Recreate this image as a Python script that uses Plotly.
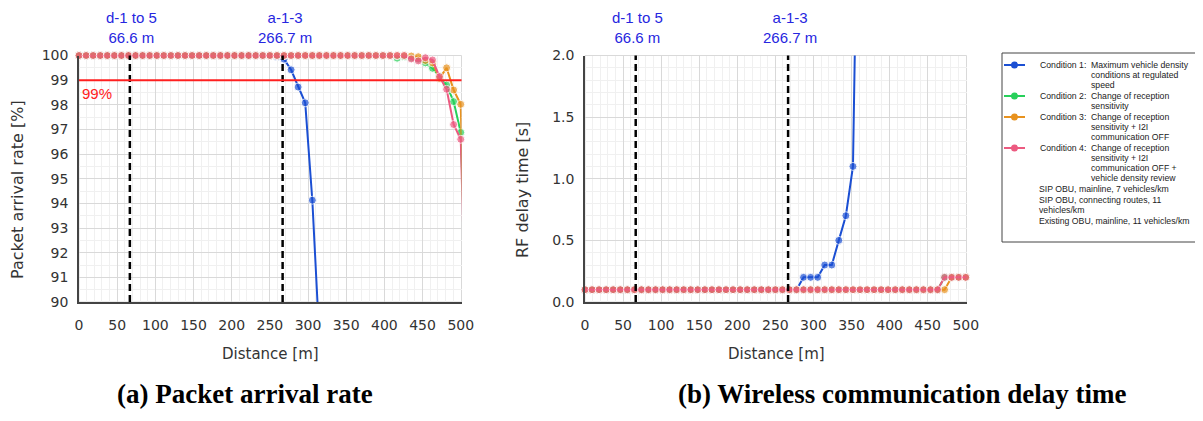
import plotly.graph_objects as go

# -- datos ----------------------------------------------------------------------------------------------------- -- #

# distancia de cada punto de medicion [m]
distance = [0.0, 9.3, 18.5, 27.8, 37.0, 46.3, 55.6, 64.8, 74.1, 83.3,
            92.6, 101.9, 111.1, 120.4, 129.6, 138.9, 148.1, 157.4, 166.7, 175.9,
            185.2, 194.4, 203.7, 213.0, 222.2, 231.5, 240.7, 250.0, 259.3, 268.5,
            277.8, 287.0, 296.3, 305.6, 314.8, 324.1, 333.3, 342.6, 351.9, 361.1,
            370.4, 379.6, 388.9, 398.1, 407.4, 416.7, 425.9, 435.2, 444.4, 453.7,
            463.0, 472.2, 481.5, 490.7, 500.0, 509.3]

# tasa de llegada de paquetes [%]
arrival_c1 = [100, 100, 100, 100, 100, 100, 100, 100, 100, 100,
              100, 100, 100, 100, 100, 100, 100, 100, 100, 100,
              100, 100, 100, 100, 100, 100, 100, 100, 99.95, 99.85,
              99.42, 98.72, 98.08, 94.13, 88.5, None, None, None, None, None,
              None, None, None, None, None, None, None, None, None, None,
              None, None, None, None, None, None]
arrival_c2 = [100, 100, 100, 100, 100, 100, 100, 100, 100, 100,
              100, 100, 100, 100, 100, 100, 100, 100, 100, 100,
              100, 100, 100, 100, 100, 100, 100, 100, 100, 100,
              100, 100, 100, 100, 100, 100, 100, 100, 100, 100,
              100, 100, 100, 100, 100, 99.89, 99.95, 99.9, 99.85, 99.7,
              99.48, 99.15, 98.8, 98.13, 96.88, 88.0]
arrival_c3 = [100, 100, 100, 100, 100, 100, 100, 100, 100, 100,
              100, 100, 100, 100, 100, 100, 100, 100, 100, 100,
              100, 100, 100, 100, 100, 100, 100, 100, 100, 100,
              100, 100, 100, 100, 100, 100, 100, 100, 100, 100,
              100, 100, 100, 100, 100, 100, 100, 99.98, 99.95, 99.8,
              99.7, 99.07, 99.5, 98.6, 98.02, 85.0]
arrival_c4 = [100, 100, 100, 100, 100, 100, 100, 100, 100, 100,
              100, 100, 100, 100, 100, 100, 100, 100, 100, 100,
              100, 100, 100, 100, 100, 100, 100, 100, 100, 100,
              100, 100, 100, 100, 100, 100, 100, 100, 100, 100,
              100, 100, 100, 100, 100, 100, 100, 99.86, 99.78, 99.91,
              99.82, 99.14, 98.63, 97.2, 96.6, 86.0]

# tiempo de retardo RF [s]
delay_c1 = [0.1, 0.1, 0.1, 0.1, 0.1, 0.1, 0.1, 0.1, 0.1, 0.1,
            0.1, 0.1, 0.1, 0.1, 0.1, 0.1, 0.1, 0.1, 0.1, 0.1,
            0.1, 0.1, 0.1, 0.1, 0.1, 0.1, 0.1, 0.1, 0.1, 0.1,
            0.1, 0.2, 0.2, 0.2, 0.3, 0.3, 0.5, 0.7, 1.1, 4.6,
            None, None, None, None, None, None, None, None, None, None,
            None, None, None, None, None, None]
delay_c2 = [0.1, 0.1, 0.1, 0.1, 0.1, 0.1, 0.1, 0.1, 0.1, 0.1,
            0.1, 0.1, 0.1, 0.1, 0.1, 0.1, 0.1, 0.1, 0.1, 0.1,
            0.1, 0.1, 0.1, 0.1, 0.1, 0.1, 0.1, 0.1, 0.1, 0.1,
            0.1, 0.1, 0.1, 0.1, 0.1, 0.1, 0.1, 0.1, 0.1, 0.1,
            0.1, 0.1, 0.1, 0.1, 0.1, 0.1, 0.1, 0.1, 0.1, 0.1,
            0.1, 0.2, 0.2, 0.2, 0.2, 0.2]
delay_c3 = [0.1, 0.1, 0.1, 0.1, 0.1, 0.1, 0.1, 0.1, 0.1, 0.1,
            0.1, 0.1, 0.1, 0.1, 0.1, 0.1, 0.1, 0.1, 0.1, 0.1,
            0.1, 0.1, 0.1, 0.1, 0.1, 0.1, 0.1, 0.1, 0.1, 0.1,
            0.1, 0.1, 0.1, 0.1, 0.1, 0.1, 0.1, 0.1, 0.1, 0.1,
            0.1, 0.1, 0.1, 0.1, 0.1, 0.1, 0.1, 0.1, 0.1, 0.1,
            0.1, 0.1, 0.2, 0.2, 0.2, 0.2]
delay_c4 = [0.1, 0.1, 0.1, 0.1, 0.1, 0.1, 0.1, 0.1, 0.1, 0.1,
            0.1, 0.1, 0.1, 0.1, 0.1, 0.1, 0.1, 0.1, 0.1, 0.1,
            0.1, 0.1, 0.1, 0.1, 0.1, 0.1, 0.1, 0.1, 0.1, 0.1,
            0.1, 0.1, 0.1, 0.1, 0.1, 0.1, 0.1, 0.1, 0.1, 0.1,
            0.1, 0.1, 0.1, 0.1, 0.1, 0.1, 0.1, 0.1, 0.1, 0.1,
            0.1, 0.2, 0.2, 0.2, 0.2, 0.2]

# textos de la leyenda
cond_heads = ['Condition 1:', 'Condition 2:', 'Condition 3:', 'Condition 4:']
cond_desc = [['Maximum vehicle density', 'conditions at regulated', 'speed'],
             ['Change of reception', 'sensitivity'],
             ['Change of reception', 'sensitivity + I2I', 'communication OFF'],
             ['Change of reception', 'sensitivity + I2I', 'communication OFF +', 'vehicle density review']]
extra_desc = [['SIP OBU, mainline, 7 vehicles/km'],
              ['SIP OBU, connecting routes, 11', 'vehicles/km'],
              ['Existing OBU, mainline, 11 vehicles/km']]

# marcas de referencia
mark_pos = [66.6, 266.7]
mark_txt = ['d-1 to 5<br>66.6 m', 'a-1-3<br>266.7 m']
threshold = 99

colors = ['#1b4fd3', '#27d05a', '#e8921e', '#ec5a80']
arrivals = [arrival_c1, arrival_c2, arrival_c3, arrival_c4]
delays = [delay_c1, delay_c2, delay_c3, delay_c4]

x_max = 500
OFF = 8                     # margen del body en la pagina
W, H = 1203 - 2 * OFF, 421 - 2 * OFF


def px_x(p):
    return (p - OFF) / W


def px_y(p):
    return 1 - (p - OFF) / H


def sizes(ys, lo, hi, s=8):
    # ocultar marcadores fuera del area de la grafica
    return [s if (y is not None and lo <= y <= hi and x <= x_max) else 0 for x, y in zip(distance, ys)]


fig = go.Figure()

for i in range(4):
    fig.add_trace(go.Scatter(x=distance, y=arrivals[i], name=cond_heads[i], mode='lines+markers',
                             line=dict(color=colors[i], width=2),
                             marker=dict(color=colors[i], size=sizes(arrivals[i], 90, 100)),
                             cliponaxis=False, showlegend=False, xaxis='x', yaxis='y'))

for i in range(4):
    fig.add_trace(go.Scatter(x=distance, y=delays[i], name=cond_heads[i], mode='lines+markers',
                             line=dict(color=colors[i], width=2),
                             marker=dict(color=colors[i], size=sizes(delays[i], 0, 2)),
                             cliponaxis=False, showlegend=False, xaxis='x2', yaxis='y2'))

tick_font = dict(family='DejaVu Sans', size=14, color='#333333')
ax_common = dict(showgrid=True, gridcolor='#d9d9d9', gridwidth=1, zeroline=False,
                 showline=True, linecolor='#444444', linewidth=1.5, ticks='',
                 tickfont=tick_font, automargin=False)

x_dom_a = [px_x(79), px_x(461.5)]
x_dom_b = [px_x(585), px_x(966.5)]
y_dom = [px_y(302), px_y(55.5)]

fig.update_layout(
    width=W, height=H, margin=dict(l=0, r=0, t=0, b=0),
    paper_bgcolor='white', plot_bgcolor='white', showlegend=False,
    xaxis=dict(domain=x_dom_a, range=[0, 501], dtick=50, tick0=0, anchor='y', ticklabelstandoff=9,
               minor=dict(dtick=10, showgrid=True, gridcolor='#f0f0f0'), **ax_common),
    yaxis=dict(domain=y_dom, range=[90, 100], dtick=1, anchor='x', ticklabelstandoff=6,
               minor=dict(dtick=0.5, showgrid=True, gridcolor='#f0f0f0'), **ax_common),
    xaxis2=dict(domain=x_dom_b, range=[0, 501], dtick=50, tick0=0, anchor='y2', ticklabelstandoff=9,
                minor=dict(dtick=10, showgrid=True, gridcolor='#f0f0f0'), **ax_common),
    yaxis2=dict(domain=y_dom, range=[0, 2], dtick=0.5, tickformat='.1f', anchor='x2', ticklabelstandoff=6,
                minor=dict(dtick=0.1, showgrid=True, gridcolor='#f0f0f0'), **ax_common),
)

# borde claro del area de graficas
for xr, yr in [('x domain', 'y domain'), ('x2 domain', 'y2 domain')]:
    fig.add_shape(type='rect', xref=xr, yref=yr, x0=0, x1=1, y0=0, y1=1,
                  line=dict(color='#d9d9d9', width=1), layer='below')

# lineas punteadas de ubicacion y sus etiquetas
for xa, ya in [('x', 'y'), ('x2', 'y2')]:
    for p, t in zip(mark_pos, mark_txt):
        fig.add_shape(type='line', xref=xa, yref=ya + ' domain', x0=p, x1=p, y0=0, y1=1,
                      line=dict(color='black', width=2.5, dash='7px,4px'))
        fig.add_annotation(x=p, y=1, xref=xa, yref=ya + ' domain', text=t, showarrow=False,
                           yanchor='bottom', yshift=7, xshift=2,
                           font=dict(family='Liberation Sans', size=15, color='#2626e0'))

# linea de 99 %
fig.add_shape(type='line', xref='x domain', yref='y', x0=0, x1=1, y0=threshold, y1=threshold,
              line=dict(color='#ff2020', width=2))
fig.add_annotation(x=0, y=threshold, xref='x', yref='y', text='99%', showarrow=False,
                   xanchor='left', yanchor='top', xshift=1, yshift=-3,
                   font=dict(family='Liberation Sans', size=15, color='#ff2020'))

# titulos de ejes
title_font = dict(family='DejaVu Sans', size=16, color='#333333')
for xc, t in [(270, 'Distance [m]'), (776, 'Distance [m]')]:
    fig.add_annotation(x=px_x(xc), y=px_y(354), xref='paper', yref='paper', text=t, showarrow=False,
                       xanchor='center', yanchor='middle',
                       font=dict(family='DejaVu Sans', size=15, color='#333333'))
for xc, t in [(17, 'Packet arrival rate [%]'), (522, 'RF delay time [s]')]:
    fig.add_annotation(x=px_x(xc), y=px_y(190), xref='paper', yref='paper', text=t, showarrow=False,
                       textangle=-90, xanchor='center', yanchor='middle', font=title_font)

# subtitulos de las graficas
for xc, t in [(245, '(a) Packet arrival rate'), (902, '(b) Wireless communication delay time')]:
    fig.add_annotation(x=px_x(xc), y=px_y(394), xref='paper', yref='paper', text='<b>' + t + '</b>',
                       showarrow=False, xanchor='center', yanchor='middle', borderpad=0,
                       font=dict(family='Liberation Serif', size=27, color='black'))

# -- leyenda dibujada a mano (sangria colgante como en el original) -------------------------------------------- -- #
leg_font = dict(family='Liberation Sans', size=8.7, color='#222222')
fig.add_shape(type='rect', xref='paper', yref='paper', x0=px_x(1002), x1=px_x(1198),
              y0=px_y(242), y1=px_y(53), line=dict(color='#444444', width=1), fillcolor='white')

pitch, gap = 10.0, 1.0      # separacion entre lineas y entre elementos [px]
yy = 65
for i in range(4):
    fig.add_shape(type='line', xref='paper', yref='paper', x0=px_x(1004), x1=px_x(1025),
                  y0=px_y(yy), y1=px_y(yy), line=dict(color=colors[i], width=2))
    fig.add_shape(type='circle', xref='paper', yref='paper', x0=px_x(1011), x1=px_x(1018),
                  y0=px_y(yy + 3.5), y1=px_y(yy - 3.5), fillcolor=colors[i], line=dict(width=0))
    fig.add_annotation(x=px_x(1039), y=px_y(yy), xref='paper', yref='paper', text=cond_heads[i],
                       showarrow=False, xanchor='left', yanchor='middle', borderpad=0, font=leg_font)
    for ln in cond_desc[i]:
        fig.add_annotation(x=px_x(1090), y=px_y(yy), xref='paper', yref='paper', text=ln,
                           showarrow=False, xanchor='left', yanchor='middle', borderpad=0, font=leg_font)
        yy += pitch
    yy += gap

for lines in extra_desc:
    for ln in lines:
        fig.add_annotation(x=px_x(1038), y=px_y(yy), xref='paper', yref='paper', text=ln,
                           showarrow=False, xanchor='left', yanchor='middle', borderpad=0, font=leg_font)
        yy += pitch
    yy += gap

fig.write_html('out.html')
